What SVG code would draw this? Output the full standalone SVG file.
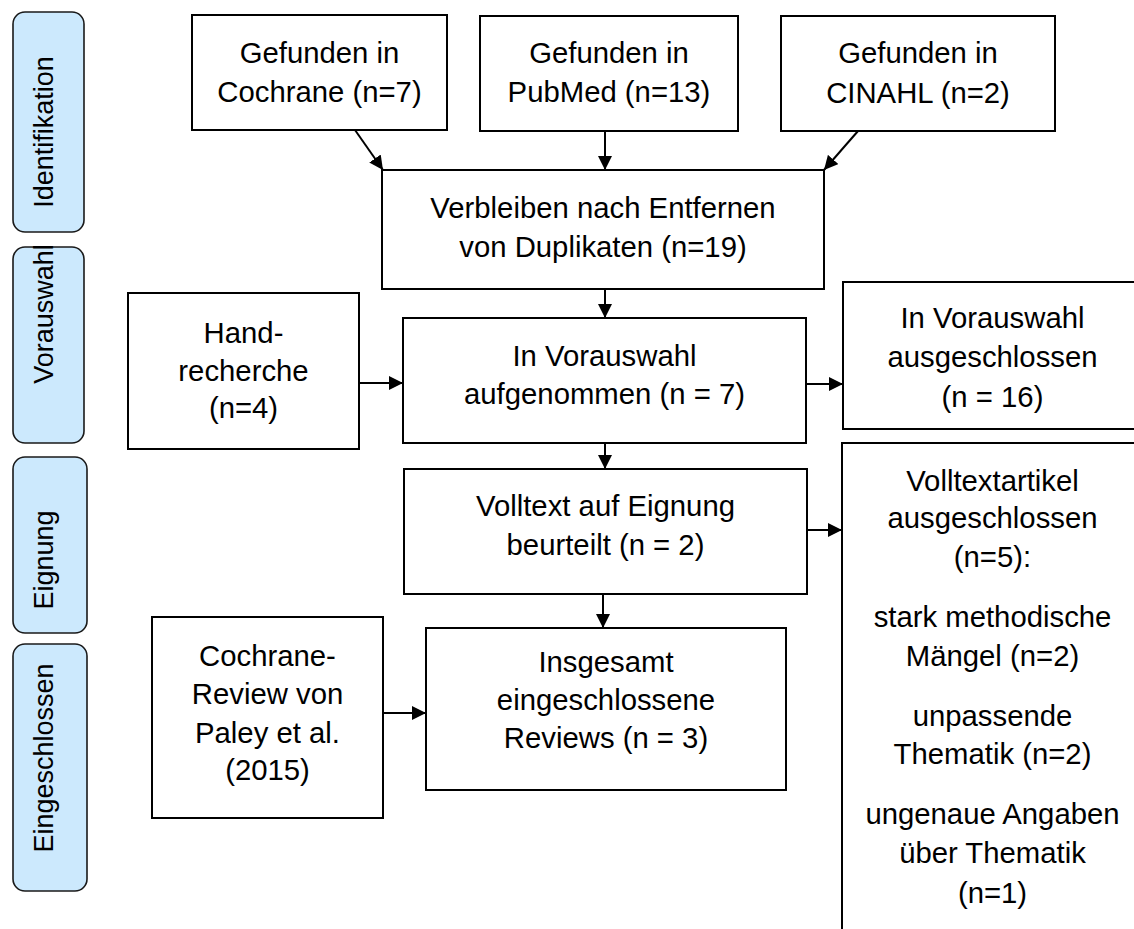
<svg xmlns="http://www.w3.org/2000/svg" width="1134" height="929" viewBox="0 0 1134 929">
<style>
.box{fill:#fff;stroke:#000;stroke-width:2}
.phase{fill:#cce9fd;stroke:#1a1a1a;stroke-width:1.6}
.t{font-family:"Liberation Sans",Arial,sans-serif;font-size:29.3px;fill:#000;text-anchor:middle}
.p{font-family:"Liberation Sans",Arial,sans-serif;font-size:27px;fill:#000;text-anchor:middle}
.c{stroke:#000;stroke-width:2;fill:none;marker-end:url(#ah)}
</style>
<defs>
<marker id="ah" viewBox="0 0 14 14" refX="14" refY="7" markerWidth="14" markerHeight="14" markerUnits="userSpaceOnUse" orient="auto">
<path d="M0,0 L14,7 L0,14 z" fill="#000"/>
</marker>
</defs>
<rect width="1134" height="929" fill="#fff"/>
<g id="phase-identifikation"><rect class="phase" x="13" y="12" width="71" height="220" rx="12"/><text class="p" transform="translate(53,132) rotate(-90)">Identifikation</text></g>
<g id="phase-vorauswahl"><rect class="phase" x="13" y="247" width="71" height="196" rx="12"/><text class="p" transform="translate(53,314) rotate(-90)">Vorauswahl</text></g>
<g id="phase-eignung"><rect class="phase" x="13" y="457" width="74" height="176" rx="12"/><text class="p" transform="translate(53,560) rotate(-90)">Eignung</text></g>
<g id="phase-eingeschlossen"><rect class="phase" x="13" y="644" width="74" height="247" rx="12"/><text class="p" transform="translate(53,758) rotate(-90)">Eingeschlossen</text></g>

<g id="cochrane"><rect class="box" x="192" y="15" width="255" height="115"/><text class="t" x="319.5" y="63">Gefunden in</text><text class="t" x="319.5" y="102">Cochrane (n=7)</text></g>
<g id="pubmed"><rect class="box" x="480" y="16" width="258" height="115"/><text class="t" x="609" y="63">Gefunden in</text><text class="t" x="609" y="102">PubMed (n=13)</text></g>
<g id="cinahl"><rect class="box" x="781" y="16" width="274" height="115"/><text class="t" x="918" y="63">Gefunden in</text><text class="t" x="918" y="103">CINAHL (n=2)</text></g>
<g id="verbleiben"><rect class="box" x="382" y="170" width="442" height="119"/><text class="t" x="603" y="218">Verbleiben nach Entfernen</text><text class="t" x="603" y="257">von Duplikaten (n=19)</text></g>
<g id="hand"><rect class="box" x="128" y="293" width="231" height="156"/><text class="t" x="243.5" y="343">Hand-</text><text class="t" x="243.5" y="381">recherche</text><text class="t" x="243.5" y="418">(n=4)</text></g>
<g id="aufgenommen"><rect class="box" x="403" y="318" width="403" height="125"/><text class="t" x="604.5" y="366">In Vorauswahl</text><text class="t" x="604.5" y="404">aufgenommen (n = 7)</text></g>
<g id="ausgeschlossen"><rect class="box" x="843" y="282" width="300" height="147"/><text class="t" x="992.5" y="328">In Vorauswahl</text><text class="t" x="992.5" y="367">ausgeschlossen</text><text class="t" x="992.5" y="407">(n = 16)</text></g>
<g id="volltext"><rect class="box" x="404" y="469" width="403" height="125"/><text class="t" x="605.5" y="516">Volltext auf Eignung</text><text class="t" x="605.5" y="555">beurteilt (n = 2)</text></g>
<g id="volltextartikel"><rect class="box" x="842" y="443" width="300" height="500"/>
<text class="t" x="992.5" y="491">Volltextartikel</text><text class="t" x="992.5" y="528">ausgeschlossen</text><text class="t" x="992.5" y="567">(n=5):</text>
<text class="t" x="992.5" y="627">stark methodische</text><text class="t" x="992.5" y="666">Mängel (n=2)</text>
<text class="t" x="992.5" y="726">unpassende</text><text class="t" x="992.5" y="764">Thematik (n=2)</text>
<text class="t" x="992.5" y="824">ungenaue Angaben</text><text class="t" x="992.5" y="863">über Thematik</text><text class="t" x="992.5" y="903">(n=1)</text></g>
<g id="cochrane-review"><rect class="box" x="152" y="617" width="231" height="201"/><text class="t" x="267.5" y="666">Cochrane-</text><text class="t" x="267.5" y="704">Review von</text><text class="t" x="267.5" y="743">Paley et al.</text><text class="t" x="267.5" y="780">(2015)</text></g>
<g id="insgesamt"><rect class="box" x="426" y="628" width="360" height="162"/><text class="t" x="606" y="672">Insgesamt</text><text class="t" x="606" y="710">eingeschlossene</text><text class="t" x="606" y="748">Reviews (n = 3)</text></g>

<g id="connectors">
<line class="c" x1="355" y1="130" x2="383" y2="170"/>
<line class="c" x1="605" y1="131" x2="605" y2="170"/>
<line class="c" x1="858" y1="131" x2="824" y2="170"/>
<line class="c" x1="605" y1="289" x2="605" y2="318"/>
<line class="c" x1="359" y1="383" x2="403" y2="383"/>
<line class="c" x1="806" y1="384" x2="843" y2="384"/>
<line class="c" x1="605" y1="443" x2="605" y2="469"/>
<line class="c" x1="807" y1="530" x2="842" y2="530"/>
<line class="c" x1="603" y1="594" x2="603" y2="628"/>
<line class="c" x1="383" y1="713" x2="426" y2="713"/>
</g>
</svg>
